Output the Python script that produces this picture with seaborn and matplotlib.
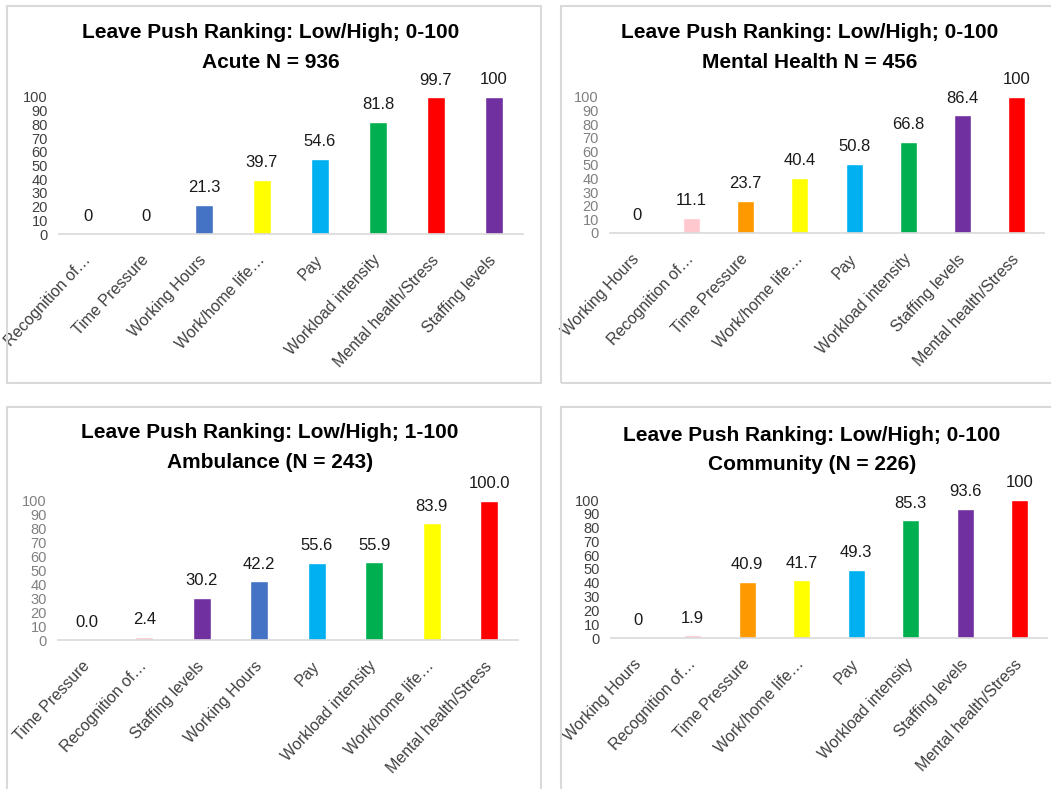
import numpy as np
import pandas as pd
import matplotlib
matplotlib.use("Agg")
import matplotlib.pyplot as plt
import seaborn as sns
from matplotlib.patches import Rectangle

# ------------------------------------------------------
# Data
# ------------------------------------------------------

acute_cats = ["Recognition of…", "Time Pressure", "Working Hours", "Work/home life…",
              "Pay", "Workload intensity", "Mental health/Stress", "Staffing levels"]
acute_vals = [0, 0, 21.3, 39.7, 54.6, 81.8, 99.7, 100]

mental_cats = ["Working Hours", "Recognition of…", "Time Pressure", "Work/home life…",
               "Pay", "Workload intensity", "Staffing levels", "Mental health/Stress"]
mental_vals = [0, 11.1, 23.7, 40.4, 50.8, 66.8, 86.4, 100]

ambulance_cats = ["Time Pressure", "Recognition of…", "Staffing levels", "Working Hours",
                  "Pay", "Workload intensity", "Work/home life…", "Mental health/Stress"]
ambulance_vals = [0.0, 2.4, 30.2, 42.2, 55.6, 55.9, 83.9, 100.0]

community_cats = ["Working Hours", "Recognition of…", "Time Pressure", "Work/home life…",
                  "Pay", "Workload intensity", "Staffing levels", "Mental health/Stress"]
community_vals = [0, 1.9, 40.9, 41.7, 49.3, 85.3, 93.6, 100]

titles = [
    ("Leave Push Ranking: Low/High; 0-100", "Acute N = 936"),
    ("Leave Push Ranking: Low/High; 0-100", "Mental Health N = 456"),
    ("Leave Push Ranking: Low/High; 1-100", "Ambulance (N = 243)"),
    ("Leave Push Ranking: Low/High; 0-100", "Community (N = 226)"),
]

colors = {
    "Recognition of…": "#FFC7CE",
    "Time Pressure": "#FF9900",
    "Working Hours": "#4472C4",
    "Work/home life…": "#FFFF00",
    "Pay": "#00B0F0",
    "Workload intensity": "#00B050",
    "Mental health/Stress": "#FF0000",
    "Staffing levels": "#7030A0",
}

# ------------------------------------------------------
# Figure setup
# ------------------------------------------------------

sns.set_style("white")
plt.rcParams["font.family"] = ["Liberation Sans", "DejaVu Sans"]

W, H = 1051, 789
fig = plt.figure(figsize=(W / 100, H / 100), dpi=100)


def px_rect(x0, x1, base, top):
    return [x0 / W, 1 - base / H, (x1 - x0) / W, (base - top) / H]


# panel boxes (pixels: left, top, right, bottom)
boxes = [(7, 6, 541, 383), (561, 6, 1056, 383), (7, 407, 541, 795), (561, 407, 1056, 795)]
for l, t, r, b in boxes:
    fig.add_artist(Rectangle((l / W, 1 - b / H), (r - l) / W, (b - t) / H,
                             transform=fig.transFigure, fill=False,
                             edgecolor="#D9D9D9", linewidth=1.5))

panels = [
    (acute_cats, acute_vals, px_rect(59, 523, 234, 97), "{:g}", "#404040", (271, 33, 62)),
    (mental_cats, mental_vals, px_rect(610, 1044, 233, 97), "{:g}", "#808080", (810, 33, 62)),
    (ambulance_cats, ambulance_vals, px_rect(58, 518, 640, 501), "{:.1f}", "#808080", (270, 433, 462)),
    (community_cats, community_vals, px_rect(611, 1047, 638, 500), "{:g}", "#404040", (812, 435, 464)),
]

for (cats, vals, rect, fmt, ycol, tpos), (t1, t2) in zip(panels, titles):
    ax = fig.add_axes(rect)
    df = pd.DataFrame({"cat": cats, "val": vals})
    sns.barplot(data=df, x="cat", y="val", hue="cat", palette=colors, order=cats,
                hue_order=cats, dodge=False, width=0.31, legend=False, ax=ax,
                saturation=1)

    for c in ax.containers:
        ax.bar_label(c, labels=[fmt.format(v) for v in c.datavalues], padding=7,
                     fontsize=12, color="#1a1a1a")

    ax.set_ylim(0, 100)
    ax.set_xlim(-0.5, len(cats) - 0.5)
    ax.set_yticks(np.arange(0, 101, 10))
    ax.tick_params(axis="y", labelsize=10.5, labelcolor=ycol, length=0, pad=8)
    ax.tick_params(axis="x", labelsize=11.5, labelcolor="#404040", length=0, pad=17)
    plt.setp(ax.get_xticklabels(), rotation=47, ha="right", va="center",
             rotation_mode="anchor")
    ax.set_xlabel("")
    ax.set_ylabel("")
    for s in ["top", "right", "left"]:
        ax.spines[s].set_visible(False)
    ax.spines["bottom"].set_color("#D9D9D9")
    ax.spines["bottom"].set_linewidth(1.2)

    # two-line bold title
    fig.text(tpos[0] / W, 1 - tpos[1] / H, t1, ha="center", va="center",
             fontsize=15, fontweight="bold", color="black")
    fig.text(tpos[0] / W, 1 - tpos[2] / H, t2, ha="center", va="center",
             fontsize=15, fontweight="bold", color="black")

fig.savefig("out.png", dpi=100)
